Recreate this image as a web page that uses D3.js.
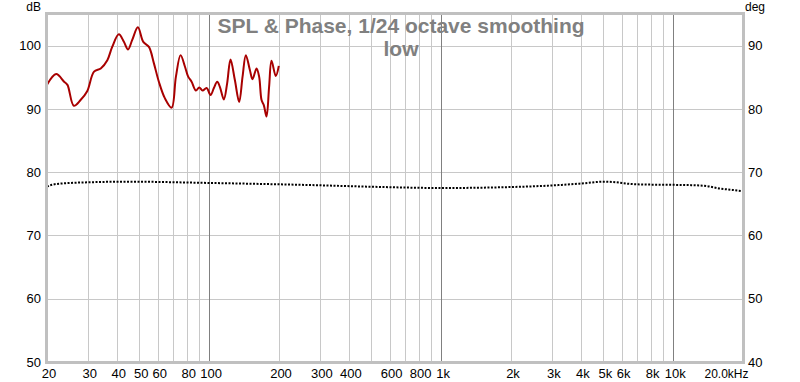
<!DOCTYPE html>
<html><head><meta charset="utf-8">
<script src="https://cdn.jsdelivr.net/npm/d3@7"></script>
<style>html,body{margin:0;padding:0;background:#fff;}svg{display:block;}</style>
</head><body>
<script>
// ---- data ----
const splFreq = [20,21.9,23.7,24.5,26.1,27.9,29.8,31.9,34.1,36.4,38.2,40.8,42.9,44.7,46.6,49.3,52.0,55.0,57.8,60.7,64.4,68.9,71.9,75.3,78.6,81.2,84.0,87.7,90.6,93.7,97.5,101.4,104.8,108.3,111.2,115.7,119.5,123.6,129.0,134.7,139.3,143.9,149.7,153.8,160.0,164.2,168.2,172.0,176.7,181.3,185.7,193.7,199.6];
const splDb   = [93.8,95.5,94.3,93.8,90.5,91.4,92.8,95.9,96.4,97.7,99.8,101.8,100.6,99.4,100.9,102.9,100.6,99.8,97.2,94.3,91.7,90.2,95.1,98.5,96.7,95.1,94.3,92.9,93.4,92.9,93.3,92.2,93.3,94.3,93.5,91.5,94.0,97.8,94.6,91.1,95.1,98.5,96.2,94.7,96.4,95.1,91.4,90.6,88.8,93.5,97.6,95.2,96.8];
const phaseFreq = [20,21,23,30,45,100,250,500,1000,2000,3000,4000,5000,5500,6500,7500,10000,12000,14000,16000,18000,20000];
const phaseDeg  = [67.7,68.0,68.2,68.4,68.5,68.3,68.0,67.7,67.5,67.65,67.9,68.2,68.5,68.45,68.15,68.05,68.0,67.95,67.8,67.4,67.2,67.0];
const xTickVals   = [20,30,40,50,60,80,100,200,300,400,600,800,1000,2000,3000,4000,5000,6000,8000,10000,20000];
const xTickLabels = ["20","30","40","50","60","80","100","200","300","400","600","800","1k","2k","3k","4k","5k","6k","8k","10k","20.0kHz"];
const xGridMinor = [30,40,50,60,70,80,90,200,300,400,500,600,700,800,900,2000,3000,4000,5000,6000,7000,8000,9000];
const xGridMajor = [100,1000,10000];
const yTicksLeft  = [50,60,70,80,90,100];
const yTicksRight = [40,50,60,70,80,90];
const titleLines = ["SPL & Phase, 1/24 octave smoothing","low"];

// ---- layout ----
const W = 800, H = 382;
const L = 47, R = 743, T = 14, B = 362;
const font = "'Liberation Sans', Arial, sans-serif";

const svg = d3.select("body").append("svg").attr("width", W).attr("height", H);

const x = d3.scaleLog().domain([20, 20000]).range([L, R]);
const yL = d3.scaleLinear().domain([50, 105]).range([B, T]);
const yR = d3.scaleLinear().domain([40, 95]).range([B, T]);

// grid
const g = svg.append("g");
g.selectAll("line.hg").data([60,70,80,90,100]).enter().append("line")
  .attr("x1", L).attr("x2", R).attr("y1", d => Math.round(yL(d))+0.5).attr("y2", d => Math.round(yL(d))+0.5)
  .attr("stroke", "#c8c8c8").attr("stroke-width", 1);
g.selectAll("line.vg").data(xGridMinor).enter().append("line")
  .attr("x1", d => Math.round(x(d))+0.5).attr("x2", d => Math.round(x(d))+0.5).attr("y1", T).attr("y2", B)
  .attr("stroke", "#c8c8c8").attr("stroke-width", 1);
g.selectAll("line.vm").data(xGridMajor).enter().append("line")
  .attr("x1", d => Math.round(x(d))+0.5).attr("x2", d => Math.round(x(d))+0.5).attr("y1", T).attr("y2", B)
  .attr("stroke", "#808080").attr("stroke-width", 1);

// title (over grid)
svg.append("g").selectAll("text").data(titleLines).enter().append("text")
  .attr("x", 401).attr("y", (d,i) => 33 + i*22.5)
  .attr("text-anchor", "middle").attr("font-family", font).attr("font-weight", "bold")
  .attr("font-size", 21).attr("fill", "#808080").text(d => d);

// phase (dotted)
const phaseLine = d3.line().x((d,i) => x(phaseFreq[i])).y(d => yR(d)).curve(d3.curveMonotoneX);
svg.append("path").attr("d", phaseLine(phaseDeg)).attr("fill", "none")
  .attr("stroke", "#000").attr("stroke-width", 2).attr("stroke-dasharray", "2,1.5");

// SPL
const splLine = d3.line().x((d,i) => x(splFreq[i])).y(d => yL(d)).curve(d3.curveCatmullRom.alpha(0.5));
svg.append("path").attr("d", splLine(splDb)).attr("fill", "none")
  .attr("stroke", "#a80000").attr("stroke-width", 2).attr("stroke-linejoin","round");

// border
svg.append("rect").attr("x", L-0.5).attr("y", T-0.5).attr("width", R-L+1).attr("height", B-T+1)
  .attr("fill", "none").attr("stroke", "#c0c0c0").attr("stroke-width", 3);

// axes (labels only)
const axB = svg.append("g").attr("transform", `translate(1.5,${B})`)
  .call(d3.axisBottom(x).tickValues(xTickVals).tickFormat((d,i) => xTickLabels[i]).tickSize(0).tickPadding(7));
const axL = svg.append("g").attr("transform", `translate(${L},0)`)
  .call(d3.axisLeft(yL).tickValues(yTicksLeft).tickSize(0).tickPadding(6));
const axR = svg.append("g").attr("transform", `translate(${R},0)`)
  .call(d3.axisRight(yR).tickValues(yTicksRight).tickSize(0).tickPadding(5));
[axB, axL, axR].forEach(a => {
  a.select(".domain").remove();
  a.selectAll("text").attr("font-family", font).attr("font-size", 13).attr("fill", "#000");
});
// last frequency label is right-aligned to stay inside the frame
axB.selectAll(".tick").filter(d => d === 20000).select("text")
  .attr("text-anchor", "end").attr("dx", 3.5).attr("font-size", 12);

svg.append("text").attr("x", 41).attr("y", 11).attr("text-anchor", "end")
  .attr("font-family", font).attr("font-size", 12).text("dB");
svg.append("text").attr("x", 745).attr("y", 11)
  .attr("font-family", font).attr("font-size", 12).text("deg");
</script>
</body></html>
